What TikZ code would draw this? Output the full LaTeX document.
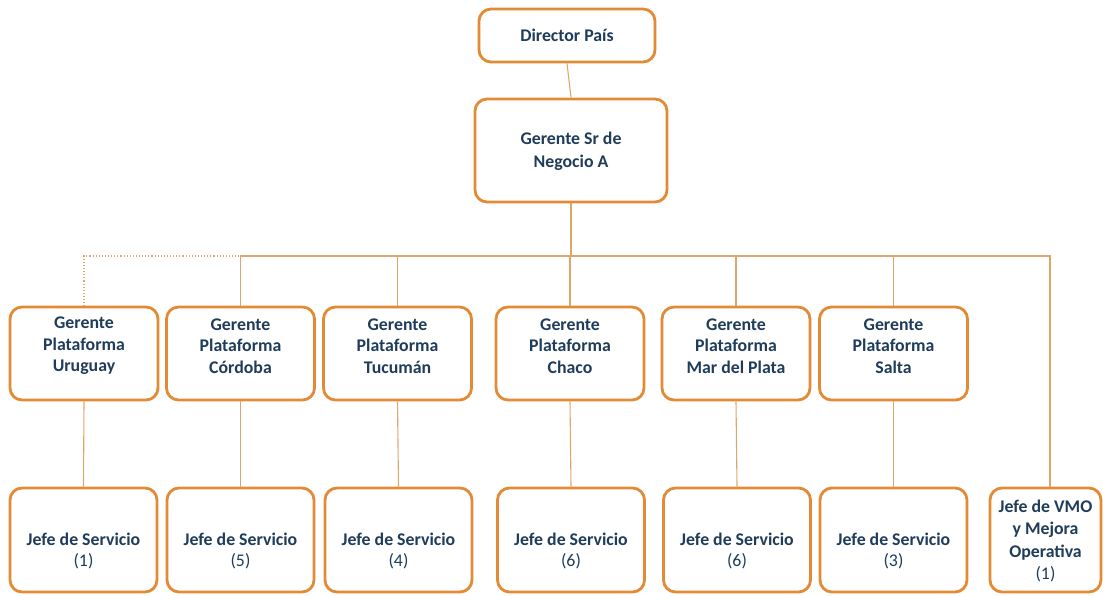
\documentclass[tikz,border=0pt]{standalone}
\usepackage{fontspec}
\setmainfont{Carlito}
\definecolor{boxor}{HTML}{E38A35}
\definecolor{lineor}{HTML}{DDA76C}
\definecolor{txtblue}{HTML}{1F3D5A}
\tikzset{
  box/.style={draw=boxor, line width=2.8pt, rounded corners=12pt, fill=white},
  lbl/.style={text=txtblue, font=\fontsize{17.8}{21.5}\selectfont\bfseries, align=center, inner sep=0pt},
  link/.style={draw=lineor, line width=1.1pt},
}
\begin{document}
\begin{tikzpicture}[x=1pt,y=-1pt]
\useasboundingbox (0,0) rectangle (1105,596);
% top
\node[box, minimum width=176pt, minimum height=53pt] (dir) at (567,35.5) {};
\node[lbl] (dir-t) at (dir.center) {Director País};
\node[box, minimum width=192pt, minimum height=103pt] (gsr) at (571,150.5) {};
\node[lbl] (gsr-t) at ([yshift=-1pt]gsr.center) {Gerente Sr de\\[1pt]Negocio A};
% row 2
\foreach \n/\x/\t in {uru/84/Uruguay, cor/240.5/Córdoba, tuc/397.5/Tucumán, cha/570/Chaco, mdp/736/Mar del Plata, sal/893.5/Salta}{
  \node[box, minimum width=148pt, minimum height=93pt] (\n) at (\x,353.5) {};
  \node[lbl] (\n-t) at ([yshift=7.5pt]\n.center) {Gerente\\Plataforma\\\t};
}
% row 3
\foreach \n/\x/\num in {j1/83.5/1, j2/240.5/5, j3/398.5/4, j4/571/6, j5/737/6, j6/893.5/3}{
  \node[box, minimum width=147pt, minimum height=104pt] (\n) at (\x,540) {};
  \node[lbl] (\n-t) at ([yshift=-11pt]\n.center) {Jefe de Servicio\\{\mdseries(\num)}};
}
\node[box, minimum width=111pt, minimum height=104pt] (vmo) at (1045.5,540) {};
\node[lbl] (vmo-t) at ([yshift=-1pt]vmo.center) {Jefe de VMO\\[1pt]y Mejora\\[1pt]Operativa\\[1pt]{\mdseries(1)}};
% connectors
\coordinate (bus) at (571,256);
\draw[link] (dir.south) -- (gsr.north);
\draw[link] (gsr.south) -- (bus);
\draw[link, dotted, line width=1.3pt] (bus) -| (uru.north);
\foreach \n in {cor,tuc,cha,mdp,sal}{\draw[link] (bus) -| (\n.north);}
\draw[link] (bus) -| ([xshift=4.5pt]vmo.north);
\draw[link] (uru.south) -- (j1.north);
\draw[link] (cor.south) -- (j2.north);
\draw[link] (tuc.south) -- (j3.north);
\draw[link] (cha.south) -- (j4.north);
\draw[link] (mdp.south) -- (j5.north);
\draw[link] (sal.south) -- (j6.north);
\end{tikzpicture}
\end{document}
